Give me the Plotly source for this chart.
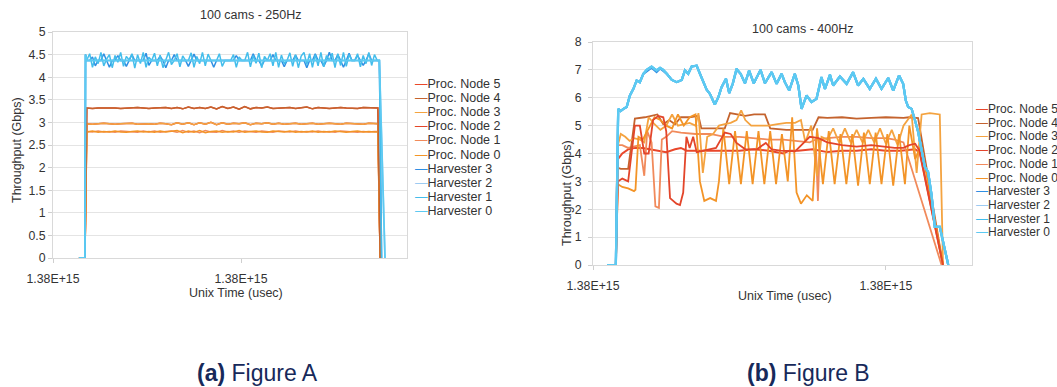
import numpy as np
import plotly.graph_objects as go

# ---------------- Figure A (250 Hz) ----------------
# time axis in seconds relative to the first labelled tick (both ticks read "1.38E+15")
a_tick_text = ["1.38E+15", "1.38E+15"]
a_tick_vals = [0, 100]
a_start = [13.8, 17.0]            # zero segment before the run starts
a_grid_h = np.arange(18.0, 173.0, 1.5)   # harvester sample times
a_grid_p = np.arange(18.0, 172.0, 3.0)   # proc node sample times

a_harv1 = [4.38, 4.52, 4.22, 4.45, 4.30, 4.55, 4.25, 4.40, 4.50, 4.21, 4.48, 4.33, 4.55, 4.24, 4.46, 4.38, 4.52, 4.20, 4.50, 4.30,
           4.55, 4.22, 4.44, 4.37, 4.53, 4.25, 4.49, 4.21, 4.40, 4.55, 4.28, 4.37, 4.52, 4.23, 4.47, 4.37, 4.37, 4.54, 4.22, 4.46,
           4.30, 4.55, 4.25, 4.51, 4.37, 4.37, 4.37, 4.52, 4.24, 4.37, 4.37, 4.37, 4.50, 4.22, 4.45, 4.37, 4.37, 4.55, 4.23, 4.48,
           4.31, 4.53, 4.21, 4.46, 4.37, 4.52, 4.25, 4.55, 4.22, 4.49, 4.30, 4.37, 4.54, 4.24, 4.50, 4.21, 4.47, 4.55, 4.28, 4.52,
           4.22, 4.50, 4.25, 4.55, 4.23, 4.48, 4.37, 4.53, 4.21, 4.52, 4.26, 4.55, 4.24, 4.50, 4.37, 4.37,
           4.52, 4.23, 4.48, 4.30, 4.55, 4.26, 4.50, 4.37]
a_harv3 = [4.37, 4.37, 4.45, 4.25, 4.37, 4.37, 4.52, 4.37, 4.22, 4.37, 4.37, 4.48, 4.37, 4.37, 4.24, 4.37, 4.50, 4.37, 4.37, 4.37,
           4.37, 4.53, 4.26, 4.37, 4.37, 4.37, 4.46, 4.37, 4.21, 4.37, 4.37, 4.50, 4.37, 4.37, 4.37, 4.37, 4.24, 4.37, 4.51, 4.37,
           4.37, 4.37, 4.37, 4.37, 4.37, 4.22, 4.37, 4.37, 4.37, 4.37, 4.37, 4.37, 4.37, 4.48, 4.37, 4.37, 4.37, 4.37, 4.37, 4.52,
           4.37, 4.37, 4.25, 4.37, 4.37, 4.37, 4.50, 4.37, 4.37, 4.37, 4.23, 4.37, 4.37, 4.37, 4.49, 4.37, 4.37, 4.37, 4.21, 4.37,
           4.37, 4.52, 4.37, 4.37, 4.24, 4.37, 4.55, 4.37, 4.37, 4.50, 4.37, 4.22, 4.37, 4.53, 4.37, 4.37, 4.48, 4.37, 4.26, 4.37,
           4.52, 4.37, 4.37, 4.37]
a_harv0_t = [13.8, 17.0, 17.3, 18.1, 173.6, 176.6]
a_harv0_v = [0, 0, 4.5, 4.37, 4.37, 0]
a_harv_end_t = [173.6, 174.8]
a_harv_end_v = [4.37, 0]

a_node4 = [3.32, 3.31, 3.32, 3.32, 3.33, 3.32, 3.31, 3.32, 3.32, 3.33, 3.32, 3.31, 3.32, 3.32, 3.33, 3.31, 3.33, 3.30, 3.34, 3.31,
           3.33, 3.31, 3.34, 3.30, 3.35, 3.31, 3.34, 3.29, 3.35, 3.30, 3.33, 3.32, 3.34, 3.31, 3.32, 3.32, 3.33, 3.31, 3.32, 3.34,
           3.30, 3.33, 3.32, 3.31, 3.32, 3.33, 3.32, 3.32, 3.31, 3.33, 3.32, 3.32]
a_node3 = [2.97, 2.96, 2.97, 2.98, 2.97, 2.96, 2.97, 2.97, 2.98, 2.96, 2.97, 2.97, 2.96, 2.98, 2.97, 2.95, 2.99, 2.96, 2.99, 2.95,
           2.99, 2.96, 3.00, 2.95, 2.99, 2.96, 2.98, 2.97, 2.99, 2.95, 2.98, 2.97, 2.99, 2.96, 2.98, 2.96, 2.97, 2.98, 2.96, 2.97,
           2.98, 2.96, 2.97, 2.98, 2.97, 2.96, 2.98, 2.97, 2.97, 2.96, 2.98, 2.97]
a_node0 = [2.79, 2.81, 2.78, 2.80, 2.79, 2.81, 2.79, 2.78, 2.80, 2.81, 2.79, 2.80, 2.78, 2.81, 2.79, 2.80, 2.82, 2.77, 2.81, 2.78,
           2.82, 2.77, 2.80, 2.81, 2.78, 2.80, 2.79, 2.82, 2.78, 2.80, 2.81, 2.79, 2.78, 2.81, 2.80, 2.79, 2.81, 2.78, 2.80, 2.79,
           2.81, 2.78, 2.80, 2.79, 2.81, 2.79, 2.78, 2.80, 2.81, 2.79, 2.80, 2.79]
a_node1 = [2.80, 2.79, 2.81, 2.79, 2.80, 2.78, 2.81, 2.80, 2.79, 2.78, 2.81, 2.79, 2.81, 2.78, 2.80, 2.81, 2.78, 2.82, 2.78, 2.81,
           2.77, 2.82, 2.79, 2.78, 2.82, 2.79, 2.81, 2.78, 2.81, 2.79, 2.78, 2.81, 2.80, 2.78, 2.81, 2.80, 2.79, 2.81, 2.79, 2.80,
           2.79, 2.81, 2.79, 2.80, 2.78, 2.81, 2.80, 2.79, 2.78, 2.80, 2.79, 2.80]
a_proc_end_t = [172.8, 174.0]

# ---------------- Figure B (400 Hz) ----------------
b_tick_text = ["1.38E+15", "1.38E+15"]
b_tick_vals = [0, 100]

b_harv_t = [4.8, 7.8, 8.6, 9.4, 10.4, 11.5, 12.6, 13.8, 14.9, 16.0, 17.2, 18.3, 20.0, 21.7, 22.9, 24.0, 25.2, 26.9, 28.6, 30.3,
            31.4, 32.5, 33.7, 35.4, 36.5, 37.6, 38.8, 39.9, 41.6, 42.8, 43.9, 45.4, 46.5, 47.7, 49.0, 50.4, 51.9, 53.3, 54.9, 57.2,
            58.7, 61.0, 62.7, 64.4, 65.5, 67.0, 68.9, 70.1, 71.2, 72.9, 74.6, 76.3, 78.0, 79.2, 80.9, 82.0, 84.3, 86.6, 88.8, 90.5,
            92.3, 94.5, 96.6, 98.5, 100.8, 102.5, 104.5, 105.9, 106.8, 107.6, 108.8, 109.9, 111.0, 112.2, 113.3, 114.4, 115.6, 116.7,
            118.4, 121.3]
b_harv0 = [0, 0, 5.6, 5.52, 5.6, 5.67, 6.08, 6.32, 6.62, 6.56, 6.86, 7.0, 7.12, 6.98, 7.07, 7.0, 6.86, 6.64, 6.56, 6.64,
           6.98, 6.86, 7.12, 7.15, 6.86, 6.56, 6.29, 6.14, 5.76, 6.02, 6.38, 6.68, 6.17, 6.5, 7.04, 6.86, 6.52, 6.98, 6.52, 7.0,
           6.52, 6.92, 6.5, 6.86, 6.56, 6.26, 6.86, 6.44, 5.6, 6.08, 5.85, 5.96, 6.74, 6.32, 6.83, 6.44, 6.76, 6.5, 6.92, 6.44,
           6.68, 6.32, 6.68, 6.32, 6.71, 6.26, 6.8, 6.5, 5.9, 5.67, 5.6, 5.2, 4.78, 4.12, 3.52, 3.34, 2.51, 1.37,
           1.37, 0]
b_harv3 = [0, 0, 5.6, 5.52, 5.6, 5.67, 6.08, 6.32, 6.62, 6.56, 6.86, 6.95, 7.08, 6.92, 7.05, 6.96, 6.86, 6.64, 6.56, 6.64,
           6.98, 6.86, 7.12, 7.15, 6.86, 6.56, 6.29, 6.14, 5.76, 6.02, 6.38, 6.68, 6.17, 6.5, 7.0, 6.86, 6.52, 6.95, 6.52, 7.0,
           6.52, 6.92, 6.5, 6.86, 6.56, 6.26, 6.86, 6.44, 5.6, 6.08, 5.85, 5.96, 6.7, 6.32, 6.8, 6.44, 6.76, 6.5, 6.9, 6.44,
           6.68, 6.32, 6.68, 6.32, 6.71, 6.26, 6.8, 6.5, 5.9, 5.67, 5.6, 5.2, 4.78, 4.12, 3.52, 3.34, 2.51, 1.37,
           1.37, 0]

b_node5_t = [4.8, 7.8, 8.5, 10, 12, 14, 17, 20, 25, 28, 30, 32, 36, 45, 50, 55, 60, 65, 67, 70,
             75, 80, 85, 90, 95, 100, 105, 110, 111.5, 119.5]
b_node5 = [0, 0, 3.8, 4.0, 4.15, 4.2, 4.2, 4.15, 4.05, 4.15, 4.2, 4.1, 4.1, 4.1, 4.1, 4.15, 4.1, 4.0, 4.1, 4.1,
           4.15, 4.05, 4.1, 4.1, 4.15, 4.1, 4.1, 4.15, 4.05, 0]

b_node4_t = [4.8, 7.8, 8.2, 9.5, 12.0, 14.3, 17.7, 20, 22, 24, 26, 28, 30, 33, 36, 37, 45, 46.8, 50, 52,
             55, 58.7, 60.5, 66, 70, 75, 77, 80, 85, 90, 95, 100, 106, 108, 111, 119.5]
b_node4 = [0, 0, 3.5, 3.45, 3.45, 5.25, 5.3, 5.35, 5.4, 5.05, 5.2, 5.05, 5.3, 5.3, 5.35, 4.9, 4.9, 5.45, 5.4, 5.35,
           5.4, 5.4, 4.9, 4.85, 4.85, 4.85, 5.3, 5.28, 5.3, 5.25, 5.28, 5.3, 5.28, 5.3, 5.27, 0]

b_node3_t = [4.8, 7.8, 8.5, 9.5, 11, 12.5, 14, 16, 17.5, 19, 21, 23, 25, 27, 29, 31, 33, 35, 36, 37.5,
             39, 41, 43, 45, 47, 49, 50.6, 52, 54, 57, 60, 63, 66, 69, 71, 72.5, 74.5, 76.5, 78, 80,
             82, 84, 86, 88, 90, 92, 94, 96, 98, 100, 102, 104, 106, 108.8, 110.5, 112.2, 115, 118.4, 119.5]
b_node3 = [0, 0, 4.3, 4.7, 4.6, 4.45, 4.55, 4.5, 4.4, 5.3, 5.05, 4.85, 5.0, 5.4, 5.0, 5.05, 5.1, 5.0, 5.45, 3.3,
           4.6, 4.7, 5.0, 5.05, 5.1, 5.2, 5.55, 5.2, 5.0, 5.0, 5.0, 5.05, 5.1, 5.1, 5.2, 4.4, 5.0, 3.2, 4.6, 4.5,
           4.9, 4.4, 4.9, 4.4, 4.85, 4.4, 4.85, 4.4, 4.9, 4.35, 4.85, 4.3, 5.0, 5.4, 3.3, 5.4, 5.45, 5.4, 0]

b_node2_t = [4.8, 7.8, 8.5, 10, 12, 14.3, 16, 17.5, 19, 20.5, 22.3, 24, 25, 26.3, 28.5, 29.7, 30.8, 31.9, 33, 34.2,
             35.4, 38, 42, 45, 47, 49, 52, 56, 59, 61, 64, 69, 72, 74, 77, 80, 85, 90, 95, 100,
             103, 106, 108, 110, 111.5, 119.5]
b_node2 = [0, 0, 3.0, 3.1, 3.0, 5.0, 5.0, 4.0, 4.0, 5.2, 5.35, 5.3, 4.8, 2.4, 2.2, 2.15, 2.6, 4.6, 4.2, 4.6,
           4.05, 4.1, 4.2, 4.75, 4.7, 4.38, 4.15, 4.15, 4.38, 4.15, 4.1, 4.08, 4.38, 4.6, 4.55, 4.4, 4.3, 4.25, 4.3, 4.25,
           4.2, 4.2, 4.3, 4.35, 4.1, 0]

b_node1_t = [4.8, 7.8, 8.5, 10, 12, 14, 16, 17.5, 18.5, 20, 21.3, 22.5, 23.5, 25, 27, 30, 35, 40, 45, 50,
             55, 60, 65, 70, 74, 76, 76.8, 77.5, 80, 85, 90, 95, 100, 103, 106, 119]
b_node1 = [0, 0, 4.3, 4.3, 4.2, 4.25, 4.3, 3.2, 4.8, 4.4, 2.1, 2.05, 4.5, 4.6, 4.8, 4.75, 4.7, 4.7, 4.6, 4.6,
           4.55, 4.5, 4.5, 4.45, 4.4, 4.5, 2.3, 4.5, 4.55, 4.6, 4.6, 4.55, 4.55, 4.5, 4.4, 0]

b_node0_t = [4.8, 7.8, 8.5, 10, 12, 14, 14.5, 15.5, 17, 19, 21, 23, 25, 27, 29, 31, 33, 35, 36.5, 38,
             40, 42, 43, 44.5, 46.5, 48.5, 50.5, 52.5, 54.5, 56.5, 58.5, 60.5, 62.5, 64.5, 66.5, 68, 69.5, 71, 73, 75,
             76.5, 78.5, 80.5, 82.5, 84.5, 86.5, 88.5, 90.5, 92.5, 94.5, 96.5, 98.5, 100.5, 102.5, 104.5, 106.5, 108, 110, 112, 119.5]
b_node0 = [0, 0, 2.9, 2.8, 2.75, 2.65, 2.7, 4.6, 4.5, 4.9, 5.3, 5.2, 5.0, 4.9, 5.4, 5.0, 5.3, 5.4, 3.0, 2.3,
           2.4, 2.3, 3.0, 4.9, 2.9, 4.8, 2.9, 4.8, 2.9, 4.8, 2.9, 4.8, 2.9, 4.7, 3.0, 5.3, 2.6, 2.2, 2.5, 2.3,
           4.9, 2.9, 4.8, 2.9, 4.7, 2.9, 4.7, 2.85, 4.75, 2.9, 4.75, 2.9, 4.7, 2.85, 4.7, 2.9, 5.0, 3.8, 4.3, 0]

series_names = ["Proc. Node 5", "Proc. Node 4", "Proc. Node 3", "Proc. Node 2", "Proc. Node 1", "Proc. Node 0",
                "Harvester 3", "Harvester 2", "Harvester 1", "Harvester 0"]
series_colors = ["#e9472b", "#c4632e", "#f4a340", "#e3452a", "#f18a5b", "#f39427",
                 "#2f8fe3", "#9ccbf2", "#43bdeb", "#5ccaf2"]
col = dict(zip(series_names, series_colors))

fig = go.Figure()


def add(x, y, name, xa, ya, width):
    fig.add_trace(go.Scatter(x=list(x), y=list(y), mode="lines", name=name, showlegend=False,
                             line=dict(color=col[name], width=width), xaxis=xa, yaxis=ya))


# --- Figure A traces ---
def a_proc(vals):
    t = a_start + list(a_grid_p) + a_proc_end_t
    v = [0, 0] + vals + [vals[-1], 0]
    return t, v


def a_harv(vals):
    t = a_start + [17.3] + list(a_grid_h) + a_harv_end_t
    v = [0, 0, 4.5] + vals + a_harv_end_v
    return t, v


for nm, vals in [("Proc. Node 5", a_node4), ("Proc. Node 2", a_node3), ("Proc. Node 1", a_node1),
                 ("Proc. Node 0", a_node0), ("Proc. Node 3", a_node3), ("Proc. Node 4", a_node4)]:
    t, v = a_proc(vals)
    add(t, v, nm, "x", "y", 1.5)
add(a_harv0_t, a_harv0_v, "Harvester 2", "x", "y", 1.6)
t, v = a_harv(a_harv3)
add(t, v, "Harvester 3", "x", "y", 1.5)
t, v = a_harv(a_harv1)
add(t, v, "Harvester 1", "x", "y", 1.5)
add(a_harv0_t, a_harv0_v, "Harvester 0", "x", "y", 1.8)

# --- Figure B traces ---
add(b_node5_t, b_node5, "Proc. Node 5", "x2", "y2", 2)
add(b_node1_t, b_node1, "Proc. Node 1", "x2", "y2", 1.8)
add(b_node4_t, b_node4, "Proc. Node 4", "x2", "y2", 1.8)
add(b_node3_t, b_node3, "Proc. Node 3", "x2", "y2", 1.8)
add(b_node0_t, b_node0, "Proc. Node 0", "x2", "y2", 1.8)
add(b_node2_t, b_node2, "Proc. Node 2", "x2", "y2", 1.8)
add(b_harv_t, b_harv3, "Harvester 3", "x2", "y2", 2.2)
add(b_harv_t, b_harv0, "Harvester 2", "x2", "y2", 2.2)
add(b_harv_t, b_harv0, "Harvester 1", "x2", "y2", 2.2)
add(b_harv_t, b_harv0, "Harvester 0", "x2", "y2", 2.2)

W, H = 1057, 387
FONT = "Liberation Sans, Arial, Helvetica, sans-serif"
TXT = "#333333"

axis_common = dict(showline=True, linecolor="#d9d9d9", linewidth=1, mirror=True, ticks="outside",
                   ticklen=4, tickcolor="#cfcfcf", zeroline=False, automargin=False,
                   tickfont=dict(size=12.3, color=TXT, family=FONT))

fig.update_layout(
    width=W, height=H, margin=dict(l=0, r=0, t=0, b=0, pad=0, autoexpand=False),
    paper_bgcolor="white", plot_bgcolor="white", showlegend=False,
    font=dict(family=FONT, size=12, color=TXT),
    xaxis=dict(domain=[53 / W, 407 / W], range=[0, 188.3], tickvals=a_tick_vals, ticktext=a_tick_text,
               showgrid=False, ticklabelstandoff=5, anchor="y", **axis_common),
    yaxis=dict(domain=[1 - 258 / H, 1 - 32 / H], range=[0, 5], dtick=0.5, showgrid=True, gridcolor="#e4e4e4",
               anchor="x", **axis_common),
    xaxis2=dict(domain=[593 / W, 972 / W], range=[0, 129.4], tickvals=b_tick_vals, ticktext=b_tick_text,
                showgrid=False, ticklabelstandoff=5, anchor="y2", **axis_common),
    yaxis2=dict(domain=[1 - 265 / H, 1 - 42 / H], range=[0, 8], dtick=1, showgrid=True, gridcolor="#e4e4e4",
                anchor="x2", ticklabelstandoff=4, **axis_common),
)

ann = []


def text(x, y, s, size=12.5, color=TXT, angle=0, xanchor="center"):
    ann.append(dict(x=x / W, y=1 - y / H, xref="paper", yref="paper", text=s, showarrow=False,
                    font=dict(size=size, color=color, family=FONT), textangle=angle,
                    xanchor=xanchor, yanchor="middle"))


# titles and axis titles
text(250, 15, "100 cams - 250Hz")
text(802, 29, "100 cams - 400Hz")
text(17, 150, "Throughput (Gbps)", angle=-90)
text(567, 193, "Throughput (Gbps)", angle=-90)
text(236, 293, "Unix Time (usec)")
text(785, 296, "Unix Time (usec)")

# legends
for i, nm in enumerate(series_names):
    s = f"<span style='color:{col[nm]}'>\u2014</span>{nm}"
    text(413, 84 + 14.1 * i, s, size=12.5, xanchor="left")
    text(974, 109 + 13.7 * i, s, size=12, xanchor="left")

# captions
NAVY = "#17295a"
text(257, 373, "<b>(a)</b> Figure A", size=23, color=NAVY)
text(808, 373, "<b>(b)</b> Figure B", size=23, color=NAVY)

fig.update_layout(annotations=ann)
fig.write_html("out.html", config={"displayModeBar": False},
               post_script="document.body.style.margin='0px';document.body.style.overflow='hidden';")
